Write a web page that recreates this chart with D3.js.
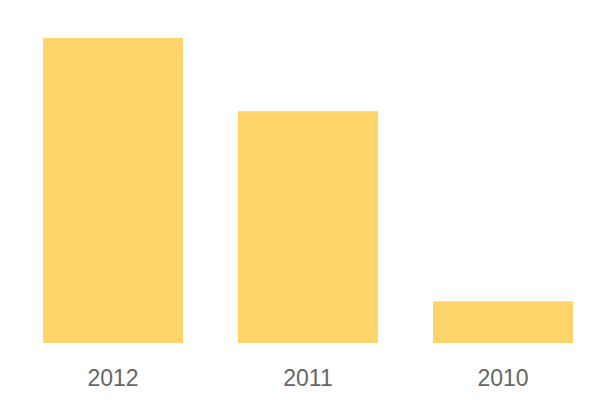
<!DOCTYPE html>
<html>
<head>
<meta charset="utf-8">
<script src="https://cdn.jsdelivr.net/npm/d3@7"></script>
<style>
  body { margin: 0; background: #fff; }
  svg { display: block; font-family: "Liberation Sans", Arial, sans-serif; }
</style>
</head>
<body>
<svg id="chart" width="600" height="400"></svg>
<script>
const years = ['2012', '2011', '2010'];
const values = [7.3, 5.55, 1.0];

const width = 600, height = 400;
const margin = { top: 38, right: 27, bottom: 57, left: 43 };

const svg = d3.select('#chart');

const x = d3.scaleBand()
  .domain(years)
  .range([margin.left, width - margin.right])
  .paddingInner(0.282)
  .paddingOuter(0);

const y = d3.scaleLinear()
  .domain([0, d3.max(values)])
  .range([height - margin.bottom, margin.top]);

// bars
svg.append('g')
  .selectAll('rect')
  .data(years)
  .join('rect')
  .attr('x', d => x(d))
  .attr('y', (d, i) => y(values[i]))
  .attr('width', x.bandwidth())
  .attr('height', (d, i) => y(0) - y(values[i]))
  .attr('fill', '#ffd56b');

// category labels
const xAxis = svg.append('g')
  .attr('transform', `translate(0,${height - margin.bottom})`)
  .call(d3.axisBottom(x).tickSize(0).tickPadding(27));
xAxis.select('.domain').remove();
xAxis.selectAll('text')
  .attr('fill', '#666')
  .style('font-size', '23px')
  .style('font-family', '"Liberation Sans", Arial, sans-serif');
</script>
</body>
</html>
